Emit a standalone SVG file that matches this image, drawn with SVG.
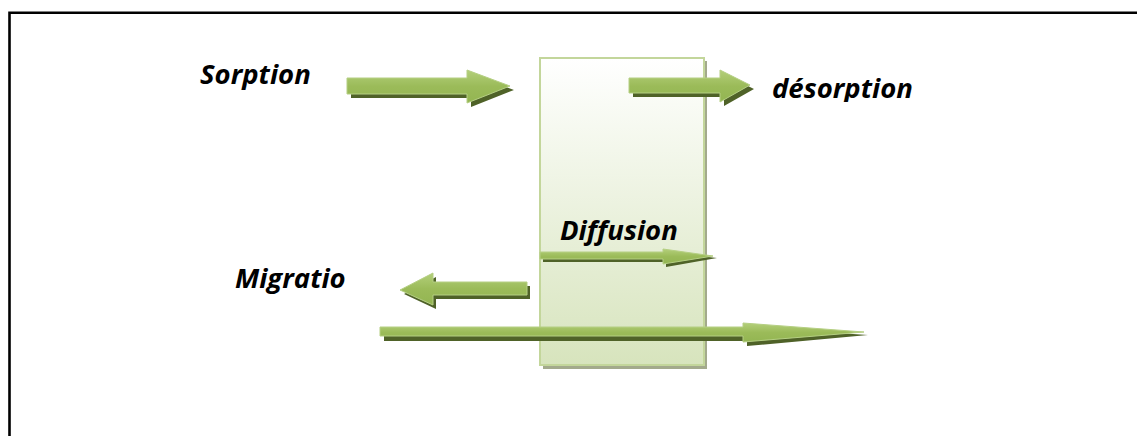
<svg xmlns="http://www.w3.org/2000/svg" width="1137" height="436" viewBox="0 0 1137 436">
<style>
.lbl{font-family:"Open Sans","Liberation Sans",sans-serif;font-weight:bold;font-style:italic;font-size:27.5px;fill:#000;font-variant-ligatures:none}
.arr{fill:url(#ga);stroke:#b5cf83;stroke-width:1}
.sh{fill:#4f6228}
</style>
<defs>
<linearGradient id="gb" x1="0" y1="0" x2="0" y2="1">
<stop offset="0" stop-color="#ffffff"/>
<stop offset="1" stop-color="#d7e4bd"/>
</linearGradient>
<linearGradient id="ga" x1="0" y1="0" x2="0" y2="1">
<stop offset="0" stop-color="#b3cf7a"/>
<stop offset="0.5" stop-color="#9bbb59"/>
<stop offset="1" stop-color="#93b552"/>
</linearGradient>
<clipPath id="cd"><rect x="700" y="60" width="300" height="42"/></clipPath>
</defs>
<rect x="0" y="0" width="1137" height="436" fill="#fff"/>
<path d="M9.5 440 V12.8 H1140" fill="none" stroke="#000" stroke-width="2.6"/>
<g id="membrane">
<rect x="543" y="61" width="164" height="308" fill="#a3aa8c"/>
<rect x="540" y="58" width="164" height="307" fill="url(#gb)" stroke="#c3d69b" stroke-width="2"/>
</g>
<g id="connectors">
<g id="sorption-arrow">
<polygon class="sh" points="351,82 471,82 471,74 514,90 471,107 471,98 351,98"/>
<polygon class="arr" points="347,78 467,78 467,70 510,86 467,103 467,94 347,94"/>
</g>
<g id="desorption-arrow">
<polygon class="sh" points="633,82 724,82 724,74 754,89 724,106 724,97 633,97"/>
<polygon class="arr" points="629,78 720,78 720,70 750,85 720,102 720,93 629,93"/>
</g>
<g id="diffusion-arrow">
<polygon class="sh" points="543,255 666,255 666,252 717,258 666,267 666,262 543,262"/>
<polygon class="arr" points="540,252 663,252 663,249 713,256 663,264 663,259 540,259"/>
</g>
<g id="migration-arrow">
<polygon class="sh" points="530,286 436,286 436,277 404,294 436,309 436,299 530,299"/>
<polygon class="arr" points="527,282 433,282 433,273 400,290 433,305 433,295 527,295"/>
</g>
<g id="through-arrow">
<polygon class="sh" points="384,331 747,331 747,327 868,335 747,346 747,341 384,341"/>
<polygon class="arr" points="380,327 743,327 743,323 864,332 743,342 743,336 380,336"/>
</g>
</g>
<g id="label-sorption"><text class="lbl" x="200" y="84">Sorption</text></g>
<g id="label-desorption" clip-path="url(#cd)"><text class="lbl" x="772" y="98">désorption</text></g>
<g id="label-diffusion"><text class="lbl" x="560" y="240">Diffusion</text></g>
<g id="label-migration"><text class="lbl" x="235" y="288">Migratio</text></g>
</svg>
